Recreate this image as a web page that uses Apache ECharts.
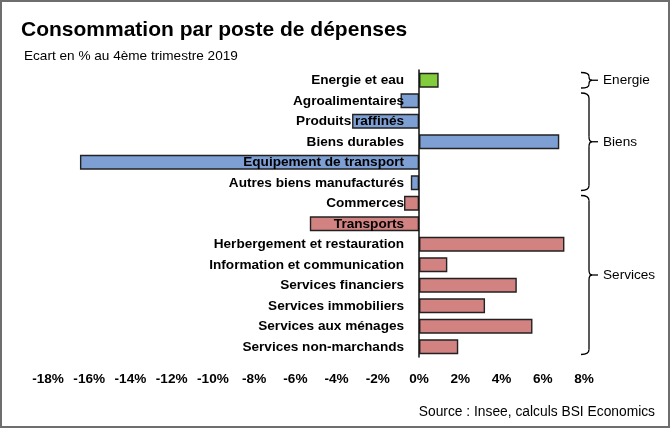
<!DOCTYPE html>
<html>
<head>
<meta charset="utf-8">
<script src="https://cdn.jsdelivr.net/npm/echarts@6/dist/echarts.min.js"></script>
<style>
html,body{margin:0;padding:0;background:#fff;}
#c{width:671px;height:429px;}
</style>
</head>
<body>
<div id="c"></div>
<script>
const categories = ['Energie et eau','Agroalimentaires','Produits raffinés','Biens durables','Equipement de transport','Autres biens manufacturés','Commerces','Transports','Herbergement et restauration','Information et communication','Services financiers','Services immobiliers','Services aux ménages','Services non-marchands'];
const values = [0.95,-0.9,-3.25,6.8,-16.45,-0.4,-0.73,-5.3,7.05,1.37,4.74,3.2,5.5,1.9];
const groupOf = ['Energie','Biens','Biens','Biens','Biens','Biens','Services','Services','Services','Services','Services','Services','Services','Services'];
const groups = ['Energie','Biens','Services'];
const xTicks = {min:-18, max:8, interval:2};

const groupColors = {Energie:'#82cc3e', Biens:'#7d9fd3', Services:'#d38282'};
const FONT = '"Liberation Sans", Arial, sans-serif';

const chart = echarts.init(document.getElementById('c'), null, {renderer:'canvas'});
const data = values.map((v,i)=>({value:v, itemStyle:{color:groupColors[groupOf[i]]}}));

const option = {
  animation:false,
  title:[
    {text:'Consommation par poste de dépenses', left:21, top:20, padding:0, textStyle:{fontFamily:FONT, fontWeight:'bold', fontSize:21, color:'#000'}},
    {text:'Ecart en % au 4ème trimestre 2019', left:24, top:49, padding:0, textStyle:{fontFamily:FONT, fontWeight:'normal', fontSize:13.6, color:'#000'}},
    {text:'Source : Insee, calculs BSI Economics', right:16, top:405, padding:0, textStyle:{fontFamily:FONT, fontWeight:'normal', fontSize:13.8, color:'#000'}}
  ],
  grid:{left:48, right:87, top:70, bottom:72, containLabel:false, outerBoundsMode:'none'},
  xAxis:{type:'value', min:xTicks.min, max:xTicks.max, interval:xTicks.interval,
    axisLine:{show:false}, axisTick:{show:false}, splitLine:{show:false},
    axisLabel:{formatter:'{value}%', fontFamily:FONT, fontWeight:'bold', fontSize:13.6, color:'#000', margin:15}},
  yAxis:{type:'category', data:categories, inverse:true, z:3, position:'left', offset:0,
    axisLine:{show:true, onZero:false, lineStyle:{color:'#111', width:1.5}},
    axisTick:{show:false},
    axisLabel:{fontFamily:FONT, fontWeight:'bold', fontSize:13.6, color:'#000', margin:15}},
  series:[{type:'bar', data:data, barWidth:15, itemStyle:{borderColor:'#222', borderWidth:1.4}}]
};
chart.setOption(option);

// place the category axis on x = 0
const gridLeftPx = chart.convertToPixel({gridIndex:0}, [xTicks.min, 0])[0];
const zeroPx = chart.convertToPixel({gridIndex:0}, [0, 0])[0];
chart.setOption({yAxis:{offset:-(zeroPx - gridLeftPx)}});

function buildGraphics(){
  const els = [];
  els.push({type:'rect', shape:{x:1, y:1, width:668, height:426}, style:{fill:'none', stroke:'#6e6e6e', lineWidth:2}, silent:true, z:10});
  const p0 = chart.convertToPixel({gridIndex:0}, [0, 0]);
  const p1 = chart.convertToPixel({gridIndex:0}, [0, 1]);
  const band = p1[1]-p0[1];
  const bx = chart.convertToPixel({gridIndex:0}, [xTicks.max, 0])[0] + 5;
  const st = {fill:'none', stroke:'#000', lineWidth:1.3};
  groups.forEach(g=>{
    const idx = groupOf.map((x,i)=>x===g?i:-1).filter(i=>i>=0);
    const yA = chart.convertToPixel({gridIndex:0}, [0, idx[0]])[1] - band/2 + 2.5;
    const yB = chart.convertToPixel({gridIndex:0}, [0, idx[idx.length-1]])[1] + band/2 - 2.5;
    const mid = (yA+yB)/2;
    const r = Math.min(5, (yB-yA)/4);
    const xl = bx - 8, xv = bx, xt = bx + 9;
    els.push({type:'bezierCurve', shape:{x1:xl, y1:yA, cpx1:xv, cpy1:yA, x2:xv, y2:yA+r}, style:st, silent:true});
    els.push({type:'line', shape:{x1:xv, y1:yA+r, x2:xv, y2:mid-r}, style:st, silent:true});
    els.push({type:'bezierCurve', shape:{x1:xv, y1:mid-r, cpx1:xv, cpy1:mid, x2:xv+3, y2:mid}, style:st, silent:true});
    els.push({type:'bezierCurve', shape:{x1:xv, y1:mid+r, cpx1:xv, cpy1:mid, x2:xv+3, y2:mid}, style:st, silent:true});
    els.push({type:'line', shape:{x1:xv+3, y1:mid, x2:xt, y2:mid}, style:st, silent:true});
    els.push({type:'line', shape:{x1:xv, y1:mid+r, x2:xv, y2:yB-r}, style:st, silent:true});
    els.push({type:'bezierCurve', shape:{x1:xl, y1:yB, cpx1:xv, cpy1:yB, x2:xv, y2:yB-r}, style:st, silent:true});
    els.push({type:'text', x:xt+5, y:mid, style:{text:g, font:'13.6px '+FONT, fill:'#000', verticalAlign:'middle', textVerticalAlign:'middle'}, silent:true});
  });
  chart.setOption({graphic:{elements:els}});
}
buildGraphics();
</script>
</body>
</html>
